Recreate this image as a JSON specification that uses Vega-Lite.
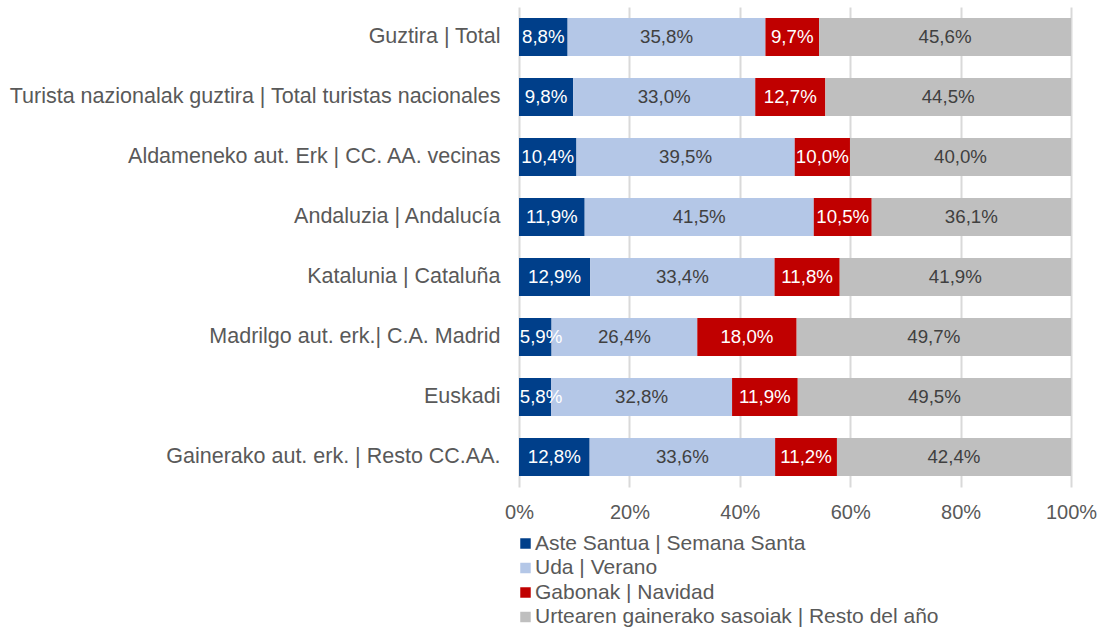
{
  "$schema": "https://vega.github.io/schema/vega-lite/v6.json",
  "width": 552,
  "height": 480,
  "autosize": {"type": "none"},
  "padding": {"left": 519, "top": 7, "right": 29, "bottom": 140},
  "background": "white",
  "config": {
    "font": "Liberation Sans",
    "view": {"stroke": null}
  },
  "data": {
    "values": [
      {"grupo": "Guztira | Total", "season": "Aste Santua | Semana Santa", "value": 8.8},
      {"grupo": "Guztira | Total", "season": "Uda | Verano", "value": 35.8},
      {"grupo": "Guztira | Total", "season": "Gabonak | Navidad", "value": 9.7},
      {"grupo": "Guztira | Total", "season": "Urtearen gainerako sasoiak | Resto del año", "value": 45.6},
      {"grupo": "Turista nazionalak guztira | Total turistas nacionales", "season": "Aste Santua | Semana Santa", "value": 9.8},
      {"grupo": "Turista nazionalak guztira | Total turistas nacionales", "season": "Uda | Verano", "value": 33.0},
      {"grupo": "Turista nazionalak guztira | Total turistas nacionales", "season": "Gabonak | Navidad", "value": 12.7},
      {"grupo": "Turista nazionalak guztira | Total turistas nacionales", "season": "Urtearen gainerako sasoiak | Resto del año", "value": 44.5},
      {"grupo": "Aldameneko aut. Erk | CC. AA. vecinas", "season": "Aste Santua | Semana Santa", "value": 10.4},
      {"grupo": "Aldameneko aut. Erk | CC. AA. vecinas", "season": "Uda | Verano", "value": 39.5},
      {"grupo": "Aldameneko aut. Erk | CC. AA. vecinas", "season": "Gabonak | Navidad", "value": 10.0},
      {"grupo": "Aldameneko aut. Erk | CC. AA. vecinas", "season": "Urtearen gainerako sasoiak | Resto del año", "value": 40.0},
      {"grupo": "Andaluzia | Andalucía", "season": "Aste Santua | Semana Santa", "value": 11.9},
      {"grupo": "Andaluzia | Andalucía", "season": "Uda | Verano", "value": 41.5},
      {"grupo": "Andaluzia | Andalucía", "season": "Gabonak | Navidad", "value": 10.5},
      {"grupo": "Andaluzia | Andalucía", "season": "Urtearen gainerako sasoiak | Resto del año", "value": 36.1},
      {"grupo": "Katalunia | Cataluña", "season": "Aste Santua | Semana Santa", "value": 12.9},
      {"grupo": "Katalunia | Cataluña", "season": "Uda | Verano", "value": 33.4},
      {"grupo": "Katalunia | Cataluña", "season": "Gabonak | Navidad", "value": 11.8},
      {"grupo": "Katalunia | Cataluña", "season": "Urtearen gainerako sasoiak | Resto del año", "value": 41.9},
      {"grupo": "Madrilgo aut. erk.| C.A. Madrid", "season": "Aste Santua | Semana Santa", "value": 5.9},
      {"grupo": "Madrilgo aut. erk.| C.A. Madrid", "season": "Uda | Verano", "value": 26.4},
      {"grupo": "Madrilgo aut. erk.| C.A. Madrid", "season": "Gabonak | Navidad", "value": 18.0},
      {"grupo": "Madrilgo aut. erk.| C.A. Madrid", "season": "Urtearen gainerako sasoiak | Resto del año", "value": 49.7},
      {"grupo": "Euskadi", "season": "Aste Santua | Semana Santa", "value": 5.8},
      {"grupo": "Euskadi", "season": "Uda | Verano", "value": 32.8},
      {"grupo": "Euskadi", "season": "Gabonak | Navidad", "value": 11.9},
      {"grupo": "Euskadi", "season": "Urtearen gainerako sasoiak | Resto del año", "value": 49.5},
      {"grupo": "Gainerako aut. erk. | Resto CC.AA.", "season": "Aste Santua | Semana Santa", "value": 12.8},
      {"grupo": "Gainerako aut. erk. | Resto CC.AA.", "season": "Uda | Verano", "value": 33.6},
      {"grupo": "Gainerako aut. erk. | Resto CC.AA.", "season": "Gabonak | Navidad", "value": 11.2},
      {"grupo": "Gainerako aut. erk. | Resto CC.AA.", "season": "Urtearen gainerako sasoiak | Resto del año", "value": 42.4}
    ]
  },
  "transform": [
    {"calculate": "indexof(['Aste Santua | Semana Santa','Uda | Verano','Gabonak | Navidad','Urtearen gainerako sasoiak | Resto del año'], datum.season)", "as": "ord"},
    {"stack": "value", "groupby": ["grupo"], "sort": [{"field": "ord", "order": "ascending"}], "offset": "normalize", "as": ["x0", "x1"]},
    {"calculate": "max((datum.x0 + datum.x1) / 2, 0.04)", "as": "xm"},
    {"calculate": "replace(format(datum.value, '.1f'), '.', ',') + '%'", "as": "lbl"}
  ],
  "encoding": {
    "y": {
      "field": "grupo",
      "type": "nominal",
      "sort": ["Guztira | Total", "Turista nazionalak guztira | Total turistas nacionales", "Aldameneko aut. Erk | CC. AA. vecinas", "Andaluzia | Andalucía", "Katalunia | Cataluña", "Madrilgo aut. erk.| C.A. Madrid", "Euskadi", "Gainerako aut. erk. | Resto CC.AA."],
      "scale": {"paddingInner": 0.367, "paddingOuter": 0.183},
      "axis": {
        "title": null,
        "ticks": false,
        "domain": false,
        "labelFontSize": 21.5,
        "labelColor": "#595959",
        "labelPadding": 19,
        "labelLimit": 600,
        "labelExpr": "datum.value == 'Guztira | Total' ? 'Guztira | Total\u00a0' : datum.value"
      }
    }
  },
  "layer": [
    {
      "mark": {"type": "bar"},
      "encoding": {
        "x": {
          "field": "x0",
          "type": "quantitative",
          "scale": {"domain": [0, 1]},
          "axis": {
            "title": null,
            "format": ".0%",
            "values": [0, 0.2, 0.4, 0.6, 0.8, 1],
            "grid": true,
            "gridColor": "#D9D9D9",
            "gridWidth": 2,
            "domain": false,
            "ticks": false,
            "labelFlush": false,
            "labelFontSize": 20,
            "labelColor": "#595959",
            "labelPadding": 15
          }
        },
        "x2": {"field": "x1"},
        "color": {
          "field": "season",
          "type": "nominal",
          "scale": {
            "domain": ["Aste Santua | Semana Santa", "Uda | Verano", "Gabonak | Navidad", "Urtearen gainerako sasoiak | Resto del año"],
            "range": ["#003F8A", "#B4C7E7", "#C00000", "#BFBFBF"]
          },
          "legend": {
            "title": null,
            "orient": "none",
            "legendX": -4,
            "legendY": 526,
            "direction": "vertical",
            "symbolType": "square",
            "symbolSize": 110,
            "symbolStrokeWidth": 0,
            "labelFontSize": 21,
            "labelColor": "#595959",
            "labelOffset": -1,
            "rowPadding": 2.5,
            "labelLimit": 600
          }
        }
      }
    },
    {
      "mark": {"type": "text", "fontSize": 18.7, "align": "center", "baseline": "middle"},
      "encoding": {
        "x": {"field": "xm", "type": "quantitative"},
        "text": {"field": "lbl"},
        "color": {
          "condition": {"test": "datum.ord == 0 || datum.ord == 2", "value": "#FFFFFF"},
          "value": "#404040"
        }
      }
    }
  ]
}
